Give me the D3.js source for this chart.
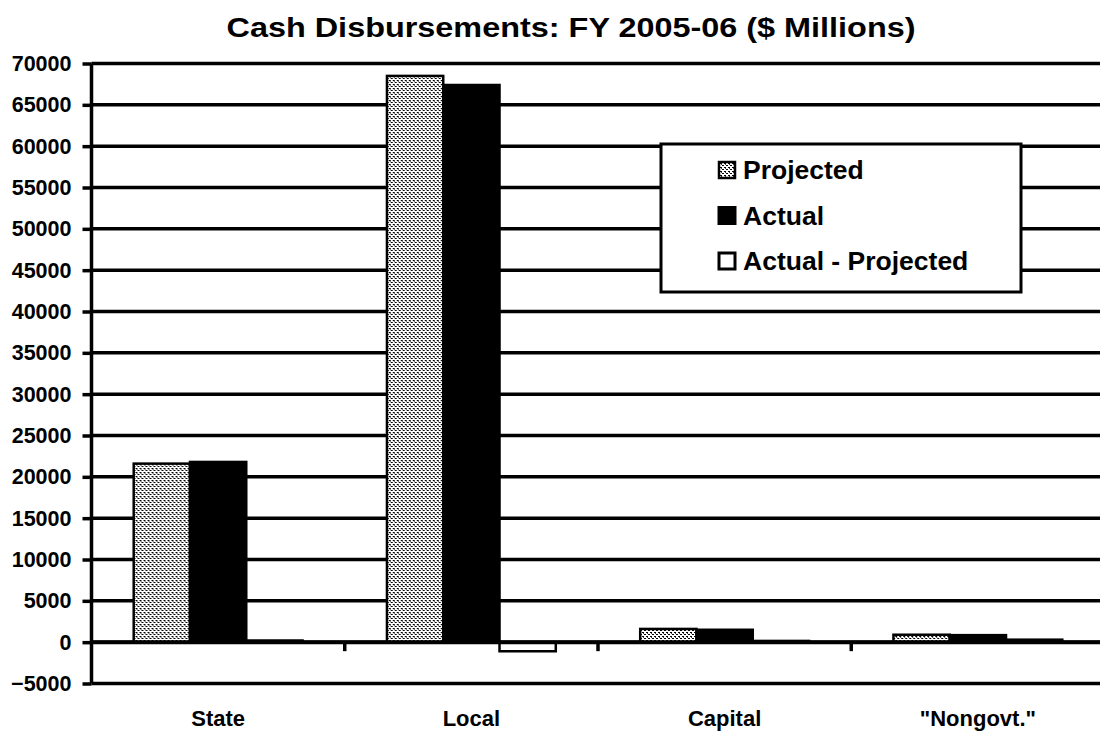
<!DOCTYPE html>
<html>
<head>
<meta charset="utf-8">
<script src="https://cdn.jsdelivr.net/npm/d3@7"></script>
<style>
  body { margin: 0; background: #fff; }
  svg { display: block; }
  text { font-family: "Liberation Sans", Arial, sans-serif; font-weight: bold; fill: #000; }
</style>
</head>
<body>
<svg id="chart" width="1100" height="735"></svg>
<script>
// chart values
var categories = ['State', 'Local', 'Capital', '"Nongovt."'];
var seriesNames = ['Projected', 'Actual', 'Actual - Projected'];
var projected = [21600, 68500, 1600, 900];
var actual = [21800, 67400, 1500, 850];
var difference = [200, -1100, 150, 300];
var yTicks = [-5000, 0, 5000, 10000, 15000, 20000, 25000, 30000, 35000,
              40000, 45000, 50000, 55000, 60000, 65000, 70000];

var svg = d3.select('#chart');
var plotLeft = 91.5, plotRight = 1104.5, plotTop = 63.5, plotBottom = 683.5;

// fine dither fill for the projected bars
var defs = svg.append('defs');
var pat = defs.append('pattern')
    .attr('id', 'dots')
    .attr('patternUnits', 'userSpaceOnUse')
    .attr('width', 4).attr('height', 4);
pat.append('rect').attr('width', 4).attr('height', 4).attr('fill', '#fff');
pat.append('rect').attr('x', 0).attr('y', 0).attr('width', 2).attr('height', 1).attr('fill', '#000');
pat.append('rect').attr('x', 2).attr('y', 2).attr('width', 2).attr('height', 1).attr('fill', '#000');
pat.append('rect').attr('x', 1).attr('y', 1).attr('width', 1).attr('height', 1).attr('fill', '#444');

var y = d3.scaleLinear().domain([-5000, 70000]).range([plotBottom, plotTop]);
var x0 = d3.scaleBand().domain(categories).range([plotLeft, plotRight]).padding(0);
var x1 = d3.scaleBand().domain(seriesNames).range([0, x0.bandwidth()])
    .paddingInner(0).paddingOuter(0.75);

var fills = { 'Projected': 'url(#dots)', 'Actual': '#000', 'Actual - Projected': '#fff' };

// title
svg.append('text')
    .attr('x', 571).attr('y', 37)
    .attr('text-anchor', 'middle')
    .attr('textLength', 689).attr('lengthAdjust', 'spacingAndGlyphs')
    .style('font-size', '28px')
    .text('Cash Disbursements: FY 2005-06 ($ Millions)');

// horizontal grid lines
svg.append('g')
    .selectAll('line')
    .data(yTicks)
    .enter().append('line')
    .attr('x1', plotLeft).attr('x2', plotRight)
    .attr('y1', d => y(d)).attr('y2', d => y(d))
    .attr('stroke', '#000').attr('stroke-width', 3.5);

// y axis with tick labels
var yAxis = svg.append('g')
    .attr('transform', 'translate(' + plotLeft + ',0)')
    .call(d3.axisLeft(y).tickValues(yTicks).tickSize(9).tickPadding(11).tickFormat(d3.format('d')));
yAxis.select('.domain').attr('stroke', '#000').attr('stroke-width', 3.5)
    .attr('d', 'M0,' + plotTop + 'V' + plotBottom);
yAxis.selectAll('.tick line').attr('stroke', '#000').attr('stroke-width', 3.5);
yAxis.selectAll('.tick text')
    .style('font-size', '21.5px').style('font-family', '"Liberation Sans", Arial, sans-serif')
    .style('font-weight', 'bold').attr('fill', '#000');

// bars
var rows = categories.map((c, i) => ({
    cat: c,
    vals: [
        { name: 'Projected', v: projected[i] },
        { name: 'Actual', v: actual[i] },
        { name: 'Actual - Projected', v: difference[i] }
    ]
}));

var groups = svg.append('g')
    .selectAll('g')
    .data(rows)
    .enter().append('g')
    .attr('transform', d => 'translate(' + x0(d.cat) + ',0)');

groups.selectAll('rect')
    .data(d => d.vals)
    .enter().append('rect')
    .attr('x', d => x1(d.name))
    .attr('width', x1.bandwidth())
    .attr('y', d => y(Math.max(0, d.v)))
    .attr('height', d => Math.abs(y(d.v) - y(0)))
    .attr('fill', d => fills[d.name])
    .attr('stroke', '#000').attr('stroke-width', 2.5);

// category axis on the zero line
var xAxis = svg.append('g')
    .attr('transform', 'translate(0,' + y(0) + ')');
xAxis.append('line')
    .attr('x1', plotLeft).attr('x2', plotRight)
    .attr('stroke', '#000').attr('stroke-width', 4);
xAxis.selectAll('line.sep')
    .data(categories.slice(1))
    .enter().append('line')
    .attr('class', 'sep')
    .attr('x1', d => x0(d)).attr('x2', d => x0(d))
    .attr('y1', 0).attr('y2', 9)
    .attr('stroke', '#000').attr('stroke-width', 3.5);

svg.append('g')
    .selectAll('text')
    .data(categories)
    .enter().append('text')
    .attr('x', d => x0(d) + x0.bandwidth() / 2)
    .attr('y', 726)
    .attr('text-anchor', 'middle')
    .style('font-size', '22px')
    .text(d => d);

// legend
var legend = svg.append('g');
legend.append('rect')
    .attr('x', 661).attr('y', 144)
    .attr('width', 360).attr('height', 148)
    .attr('fill', '#fff').attr('stroke', '#000').attr('stroke-width', 3);

var items = legend.selectAll('g.item')
    .data(seriesNames)
    .enter().append('g')
    .attr('class', 'item')
    .attr('transform', (d, i) => 'translate(0,' + (179 + i * 45.5) + ')');
items.append('rect')
    .attr('x', 719).attr('y', -17)
    .attr('width', 16).attr('height', 16)
    .attr('fill', d => fills[d])
    .attr('stroke', '#000').attr('stroke-width', d => d === 'Projected' ? 2.5 : 3);
items.append('text')
    .attr('x', 743).attr('y', 0)
    .style('font-size', '26.5px')
    .text(d => d);
</script>
</body>
</html>
